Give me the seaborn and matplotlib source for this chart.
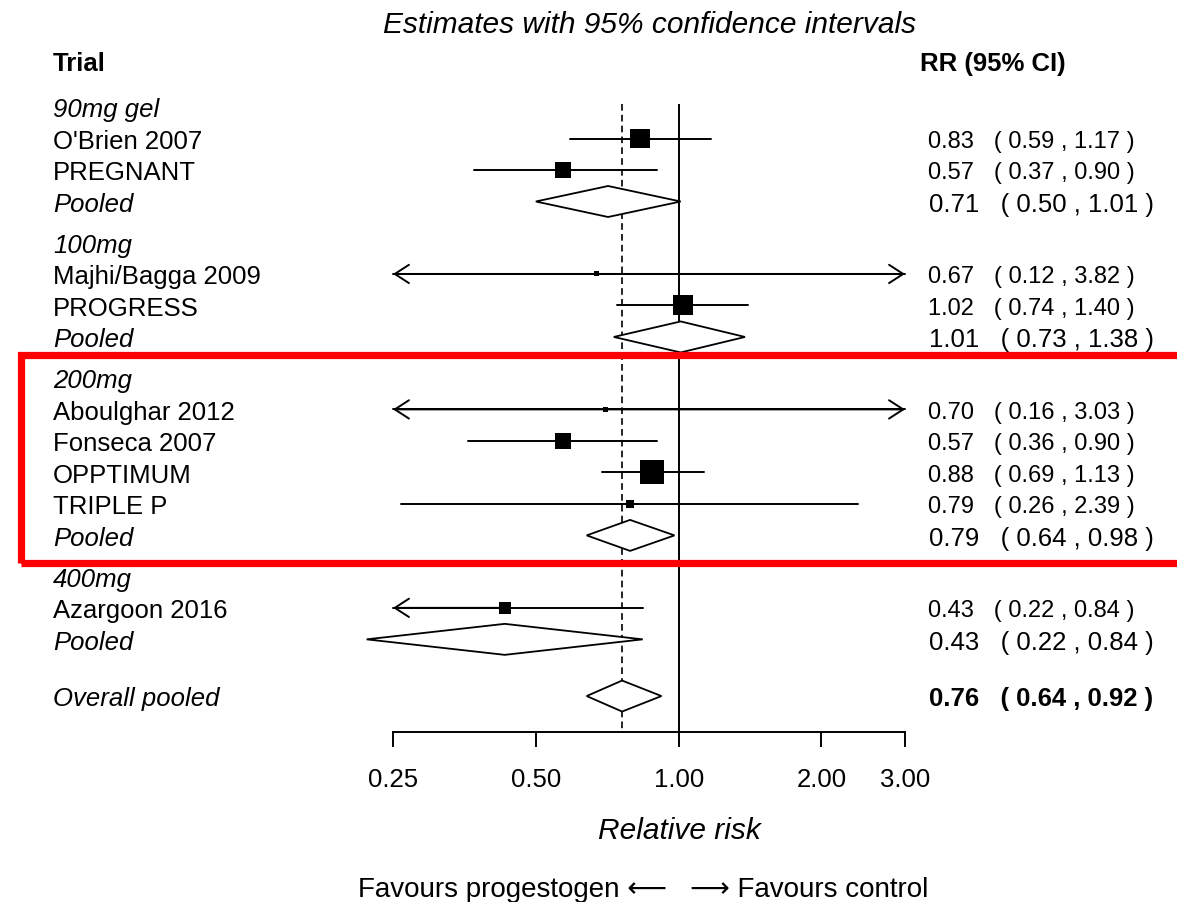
import matplotlib
matplotlib.use("Agg")
import matplotlib.pyplot as plt
import matplotlib.transforms as mtransforms
from matplotlib.patches import Polygon, Rectangle
import pandas as pd
import seaborn as sns

# ---- data ----
groups = ["90mg gel", "100mg", "200mg", "400mg"]
trial_names = [["O'Brien 2007", "PREGNANT"],
               ["Majhi/Bagga 2009", "PROGRESS"],
               ["Aboulghar 2012", "Fonseca 2007", "OPPTIMUM", "TRIPLE P"],
               ["Azargoon 2016"]]
trial_rr = [[0.83, 0.57], [0.67, 1.02], [0.70, 0.57, 0.88, 0.79], [0.43]]
trial_lo = [[0.59, 0.37], [0.12, 0.74], [0.16, 0.36, 0.69, 0.26], [0.22]]
trial_hi = [[1.17, 0.90], [3.82, 1.40], [3.03, 0.90, 1.13, 2.39], [0.84]]
trial_weight = [[19.5, 16], [5, 20], [5, 16, 24, 8], [12]]  # box side (px) ~ study weight
pooled_rr = [0.71, 1.01, 0.79, 0.43]
pooled_lo = [0.50, 0.73, 0.64, 0.22]
pooled_hi = [1.01, 1.38, 0.98, 0.84]
overall_rr, overall_lo, overall_hi = 0.76, 0.64, 0.92
xticks = [0.25, 0.5, 1.0, 2.0, 3.0]
xtick_labels = ["0.25", "0.50", "1.00", "2.00", "3.00"]
xmin, xmax = 0.25, 3.0

# ---- build rows (row units, top to bottom) ----
rows = []
y = 0.0
for g, names, rr, lo, hi, wt, prr, plo, phi in zip(groups, trial_names, trial_rr, trial_lo,
                                                   trial_hi, trial_weight, pooled_rr,
                                                   pooled_lo, pooled_hi):
    rows.append(dict(label=g, kind="header", y=y))
    for n, r, l, h, w in zip(names, rr, lo, hi, wt):
        y += 1
        rows.append(dict(label=n, kind="trial", y=y, rr=r, lo=l, hi=h, weight=w))
    y += 1
    rows.append(dict(label="Pooled", kind="pooled", y=y, rr=prr, lo=plo, hi=phi))
    y += 1.3
y += 0.5
rows.append(dict(label="Overall pooled", kind="overall", y=y,
                 rr=overall_rr, lo=overall_lo, hi=overall_hi))
df = pd.DataFrame(rows)

# ---- figure ----
W, H, DPI = 1177, 903, 100
ROW_PX, TOP_PX = 31.5, 108


def px2row(py):
    return (py - TOP_PX) / ROW_PX


sns.set_style("white")
plt.rcParams["font.family"] = ["Liberation Sans", "DejaVu Sans"]
plt.rcParams["text.color"] = "black"

fig = plt.figure(figsize=(W / DPI, H / DPI), dpi=DPI)
ax = fig.add_axes([393 / W, 0, (905 - 393) / W, 1])
ax.set_xscale("log")
ax.set_xlim(xmin, xmax)
ax.set_ylim(px2row(H), px2row(0))
axis_y = px2row(733)

# reference lines
ax.vlines(1.0, px2row(105), axis_y, color="black", lw=1.4)
ax.vlines(overall_rr, px2row(105), axis_y, color="black", lw=1.2, linestyles=(0, (4, 2.5)))

# confidence intervals of the trials
trials = df[df.kind == "trial"].reset_index(drop=True)
for _, r in trials.iterrows():
    left, right = max(r.lo, xmin), min(r.hi, xmax)
    ax.plot([left, right], [r.y, r.y], color="black", lw=1.4, clip_on=False)
    arrow = dict(arrowstyle="->,head_length=0.85,head_width=0.55", lw=1.4,
                 color="black", shrinkA=0, shrinkB=0, mutation_scale=12)
    if r.lo < xmin:
        ax.annotate("", xy=(xmin, r.y), xytext=(r.rr, r.y), arrowprops=arrow,
                    annotation_clip=False)
    if r.hi > xmax:
        ax.annotate("", xy=(xmax, r.y), xytext=(r.rr, r.y), arrowprops=arrow,
                    annotation_clip=False)

# boxes
sns.scatterplot(data=trials, x="rr", y="y", marker="s", color="black",
                s=(trials["weight"] / (DPI / 72)) ** 2, linewidth=0,
                legend=False, ax=ax, zorder=3, clip_on=False)

# diamonds
half = 15.5 / ROW_PX
for _, r in df[df.kind.isin(["pooled", "overall"])].iterrows():
    ax.add_patch(Polygon([(r.lo, r.y), (r.rr, r.y - half), (r.hi, r.y), (r.rr, r.y + half)],
                         closed=True, facecolor="white", edgecolor="black", lw=1.3,
                         zorder=4, clip_on=False))

# x axis
for s in ["top", "left", "right"]:
    ax.spines[s].set_visible(False)
ax.spines["bottom"].set_position(("data", axis_y))
ax.spines["bottom"].set_bounds(xmin, xmax)
ax.spines["bottom"].set_linewidth(1.4)
ax.spines["bottom"].set_color("black")
ax.set_xticks(xticks)
ax.set_xticklabels(xtick_labels)
ax.minorticks_off()
ax.tick_params(axis="x", direction="out", length=10.8, width=1.4, pad=14.5,
               labelsize=18.5, colors="black", bottom=True)
ax.set_yticks([])
ax.set_xlabel("")
ax.set_ylabel("")

# ---- text columns ----
fx = mtransforms.blended_transform_factory(fig.transFigure, ax.transData)
dy = 0.07
ax.text(53 / W, px2row(61.5) + dy, "Trial", transform=fx, ha="left", va="center",
        fontsize=18.5, fontweight="bold")
ax.text(920 / W, px2row(61.5) + dy, "RR (95% CI)", transform=fx, ha="left", va="center",
        fontsize=18.5, fontweight="bold")
for _, r in df.iterrows():
    italic = r.kind in ("header", "pooled", "overall")
    ax.text(53 / W, r.y + dy, r.label, transform=fx, ha="left", va="center",
            fontsize=18.5, style="italic" if italic else "normal")
    if r.kind == "header":
        continue
    txt = f"{r.rr:.2f}   ( {r.lo:.2f} , {r.hi:.2f} )"
    if r.kind == "trial":
        ax.text(928 / W, r.y + dy, txt, transform=fx, ha="left", va="center", fontsize=17)
    else:
        ax.text(929 / W, r.y + dy, txt, transform=fx, ha="left", va="center", fontsize=18.5,
                fontweight="bold" if r.kind == "overall" else "normal")

fig.text(650 / W, 1 - 25 / H, "Estimates with 95% confidence intervals", ha="center",
         va="center", fontsize=21.5, style="italic")
fig.text(679 / W, 1 - 831 / H, "Relative risk", ha="center", va="center",
         fontsize=21.5, style="italic")
fig.text(667 / W, 1 - 890 / H, "Favours progestogen \u27f5", ha="right", va="center",
         fontsize=20)
fig.text(690 / W, 1 - 890 / H, "\u27f6 Favours control", ha="left", va="center",
         fontsize=20)

# highlight box around the 200mg group
fig.add_artist(Rectangle((21 / W, 1 - 564 / H), (1250 - 21) / W, (564 - 356) / H,
                         transform=fig.transFigure, fill=False, edgecolor="#ff0000",
                         lw=5.2, clip_on=False))

fig.savefig("out.png", dpi=DPI)
